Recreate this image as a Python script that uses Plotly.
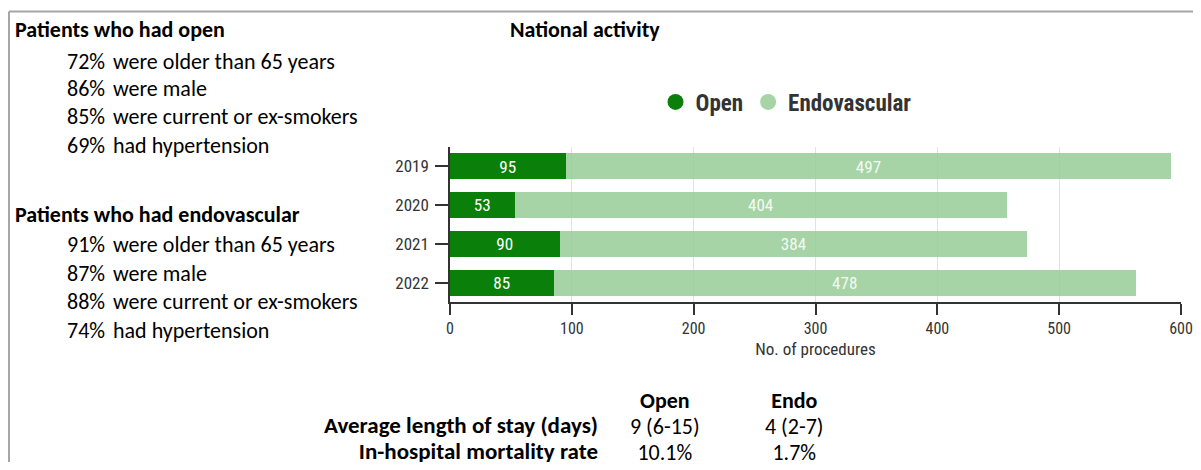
import plotly.graph_objects as go

# The page body has an 8px margin; the figure is sized to fit inside the 1201x470 window.
OFF = 8
W, H = 1201 - 2 * OFF, 470 - 2 * OFF

# ---- data ----
years = ["2019", "2020", "2021", "2022"]
open_vals = [95, 53, 90, 85]
endo_vals = [497, 404, 384, 478]
x_ticks = [0, 100, 200, 300, 400, 500, 600]

open_header = "Patients who had open"
open_pcts = ["72%", "86%", "85%", "69%"]
open_texts = ["were older than 65 years", "were male", "were current or ex-smokers", "had hypertension"]

endo_header = "Patients who had endovascular"
endo_pcts = ["91%", "87%", "88%", "74%"]
endo_texts = ["were older than 65 years", "were male", "were current or ex-smokers", "had hypertension"]

table_cols = ["Open", "Endo"]
table_rows = ["Average length of stay (days)", "In-hospital mortality rate"]
table_open = ["9 (6-15)", "10.1%"]
table_endo = ["4 (2-7)", "1.7%"]

# ---- styles ----
DARK = "#0a800a"
LIGHT = "rgba(150,204,150,0.85)"
TXT = "#333333"
COND = "Roboto Condensed, Liberation Sans Narrow, Roboto, sans-serif"
BODY = "Carlito, Calibri, Lato, sans-serif"


def px(x):
    """page pixel x -> paper fraction"""
    return (x - OFF) / W


def py(y):
    """page pixel y -> paper fraction"""
    return 1 - (y - OFF) / H


fig = go.Figure()
fig.add_trace(go.Bar(
    y=years, x=open_vals, orientation="h", name="Open",
    marker=dict(color=DARK, line=dict(width=0)),
    text=open_vals, textposition="inside", insidetextanchor="middle",
    textfont=dict(color="white", size=18, family=COND, weight="normal"), textangle=0,
    showlegend=False, hoverinfo="x+y"))
fig.add_trace(go.Bar(
    y=years, x=endo_vals, orientation="h", name="Endovascular",
    marker=dict(color=LIGHT, line=dict(width=0)),
    text=endo_vals, textposition="inside", insidetextanchor="middle",
    textfont=dict(color="rgba(255,255,255,0.9)", size=18, family=COND, weight="normal"), textangle=0,
    showlegend=False, hoverinfo="x+y"))
# legend entries with circular symbols
fig.add_trace(go.Scatter(x=[None], y=[None], mode="markers", name="Open",
                         marker=dict(color=DARK, size=16, symbol="circle")))
fig.add_trace(go.Scatter(x=[None], y=[None], mode="markers", name="Endovascular",
                         marker=dict(color="#a6d4a6", size=16, symbol="circle")))

ann = []
FS = 22


def block(header, pcts, texts, y_head, y_items):
    ann.append(dict(x=px(12.5), y=py(y_head), xref="paper", yref="paper", xanchor="left",
                    yanchor="middle", text="<b>" + header + "</b>", showarrow=False,
                    font=dict(family=BODY, size=FS, color="black")))
    for p, t, yy in zip(pcts, texts, y_items):
        ann.append(dict(x=px(65), y=py(yy), xref="paper", yref="paper", xanchor="left",
                        yanchor="middle", text=p, showarrow=False,
                        font=dict(family=BODY, size=FS, color="black")))
        ann.append(dict(x=px(111), y=py(yy), xref="paper", yref="paper", xanchor="left",
                        yanchor="middle", text=t, showarrow=False,
                        font=dict(family=BODY, size=FS, color="black")))


block(open_header, open_pcts, open_texts, 29, [61, 89, 117, 146])
block(endo_header, endo_pcts, endo_texts, 214, [244, 273, 301, 330])

ann.append(dict(x=px(508), y=py(29), xref="paper", yref="paper", xanchor="left", yanchor="middle",
                text="<b>National activity</b>", showarrow=False,
                font=dict(family=BODY, size=FS, color="black")))

# bottom table: one multi-line text per column (line spacing 1.3 x 20px = 26px)
TFS = 20
table_mid = 426
label_lines = ["&nbsp;"] + ["<span style='font-size:23px'><b>" + r + "</b></span>" for r in table_rows]
ann.append(dict(x=px(600), y=py(table_mid), xref="paper", yref="paper", xanchor="right",
                yanchor="middle", align="right", text="<br>".join(label_lines), showarrow=False,
                font=dict(family=BODY, size=TFS, color="black")))
col_x = [665, 794]
for c, vals, xx in zip(table_cols, [table_open, table_endo], col_x):
    lines = ["<span style='font-size:22px'><b>" + c + "</b></span>"] + \
            ["<span style='font-size:22px'>" + v + "</span>" for v in vals]
    ann.append(dict(x=px(xx), y=py(table_mid), xref="paper", yref="paper", xanchor="center",
                    yanchor="middle", align="center", text="<br>".join(lines), showarrow=False,
                    font=dict(family=BODY, size=TFS, color="black")))

shapes = [
    dict(type="line", xref="paper", yref="paper", x0=px(9), x1=1, y0=py(11.5), y1=py(11.5),
         line=dict(color="#a6a6a6", width=2)),
    dict(type="line", xref="paper", yref="paper", x0=px(9), x1=px(9), y0=py(11.5), y1=0,
         line=dict(color="#a6a6a6", width=2)),
]

fig.update_layout(
    width=W, height=H,
    margin=dict(l=0, r=0, t=0, b=0, autoexpand=False),
    paper_bgcolor="white", plot_bgcolor="white",
    barmode="stack", bargap=0.33,
    font=dict(family=COND, color=TXT),
    showlegend=True,
    legend=dict(orientation="h", traceorder="normal", x=px(786), xanchor="center",
                y=py(102), yanchor="middle",
                font=dict(family=COND, size=23, color=TXT, weight="bold"),
                itemwidth=30, bgcolor="rgba(0,0,0,0)"),
    xaxis=dict(domain=[px(450), px(1181)], range=[0, 600], tickvals=x_ticks,
               automargin=False, ticklabeloverflow="allow",
               showgrid=True, gridcolor="#e2e2e2", gridwidth=1,
               showline=True, linecolor=TXT, linewidth=1.5,
               ticks="outside", ticklen=11, tickcolor=TXT, tickwidth=1.5,
               tickfont=dict(family=COND, size=16, color=TXT),
               title=dict(text="No. of procedures", font=dict(family=COND, size=17, color=TXT), standoff=6),
               zeroline=False, fixedrange=True),
    yaxis=dict(domain=[py(302), py(147)], type="category", categoryorder="array",
               categoryarray=years, range=[3.5, -0.5],
               automargin=False,
               showline=True, linecolor=TXT, linewidth=1.5,
               ticks="outside", ticklen=13, tickcolor=TXT, tickwidth=1.5,
               ticklabelstandoff=3,
               tickfont=dict(family=COND, size=17, color=TXT),
               showgrid=False, zeroline=False, fixedrange=True),
    annotations=ann,
    shapes=shapes,
)

fig.write_html("out.html")
